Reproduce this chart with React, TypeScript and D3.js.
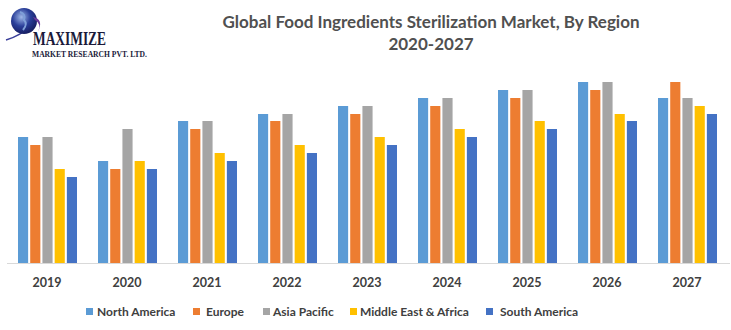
import React from "react";
import * as d3 from "d3";

const years = ["2019", "2020", "2021", "2022", "2023", "2024", "2025", "2026", "2027"];
const regions = ["North America", "Europe", "Asia Pacific", "Middle East & Africa", "South America"];
const colors = ["#5B9BD5", "#ED7D31", "#A5A5A5", "#FFC000", "#4472C4"];
const northAmerica = [126, 102, 142, 149, 157, 165, 173, 181, 165];
const europe = [118, 94, 134, 142, 149, 157, 165, 173, 181];
const asiaPacific = [126, 134, 142, 149, 157, 165, 173, 181, 165];
const middleEastAfrica = [94, 102, 110, 118, 126, 134, 142, 149, 157];
const southAmerica = [86, 94, 102, 110, 118, 126, 134, 142, 149];
const seriesValues = [northAmerica, europe, asiaPacific, middleEastAfrica, southAmerica];

const W = 731;
const H = 330;
const baseY = 263;

export default function App() {
  const x = d3.scaleBand<string>().domain(years).range([7, 727]).paddingInner(0).paddingOuter(0);
  const xi = d3.scaleBand<string>().domain(regions).range([11, 70]).paddingInner(0.17);
  const y = d3.scaleLinear().domain([0, 200]).range([baseY, baseY - 200]);

  const legendX = [86, 193, 263, 350, 486];
  const legendTextX = [97, 206, 273, 360, 500];

  return (
    <svg width={W} height={H} style={{ position: "absolute", left: 0, top: 0, background: "#fff" }}>
      <defs>
        <radialGradient id="globe" cx="0.4" cy="0.35" r="0.7">
          <stop offset="0" stopColor="#9fb8e8" />
          <stop offset="0.5" stopColor="#2a3f9a" />
          <stop offset="1" stopColor="#141a5a" />
        </radialGradient>
      </defs>
      {/* logo */}
      <g>
        <path d="M6,40 Q20,36 34,24" fill="none" stroke="#3a3f9a" strokeWidth={1.5} />
        <circle cx={24} cy={21} r={13} fill="url(#globe)" />
        <path d="M20,12 Q26,14 24,20 Q28,24 23,30" fill="none" stroke="#7fa0d8" strokeWidth={2} />
        <path d="M33,17 Q44,19 38,32 Q42,24 35,20 Z" fill="#6a3a9a" />
        <text x={33} y={45} fontFamily="Liberation Serif" fontWeight="bold" fontSize={18} fill="#1a1a3a" textLength={73} lengthAdjust="spacingAndGlyphs">MAXIMIZE</text>
        <text x={32} y={57} fontFamily="Liberation Serif" fontWeight="bold" fontSize={8.5} fill="#1a1a3a" textLength={115} lengthAdjust="spacingAndGlyphs">MARKET RESEARCH PVT. LTD.</text>
      </g>
      {/* title */}
      <text x={431} y={28} textAnchor="middle" fontFamily="Lato" fontWeight="bold" fontSize={17} fill="#505050">
        Global Food Ingredients Sterilization Market, By Region
      </text>
      <text x={431} y={50} textAnchor="middle" fontFamily="Lato" fontWeight="bold" fontSize={17} fill="#505050">
        2020-2027
      </text>
      {/* bars */}
      {years.map((yr, i) => (
        <g key={yr} transform={`translate(${x(yr)},0)`}>
          {regions.map((r, j) => (
            <rect
              key={r}
              x={xi(r)}
              y={y(seriesValues[j][i])}
              width={xi.bandwidth()}
              height={baseY - y(seriesValues[j][i])}
              fill={colors[j]}
            />
          ))}
          <text
            x={x.bandwidth() / 2}
            y={287}
            textAnchor="middle"
            fontFamily="Lato"
            fontWeight="bold"
            fontSize={12.5}
            fill="#404040"
          >
            {yr}
          </text>
        </g>
      ))}
      <line x1={7} x2={730} y1={baseY + 0.5} y2={baseY + 0.5} stroke="#D9D9D9" strokeWidth={1} />
      {/* legend */}
      {regions.map((r, j) => (
        <g key={r}>
          <rect x={legendX[j]} y={308} width={7} height={7} fill={colors[j]} />
          <text x={legendTextX[j]} y={316} fontFamily="Lato" fontWeight="bold" fontSize={12} fill="#404040">
            {r}
          </text>
        </g>
      ))}
    </svg>
  );
}
